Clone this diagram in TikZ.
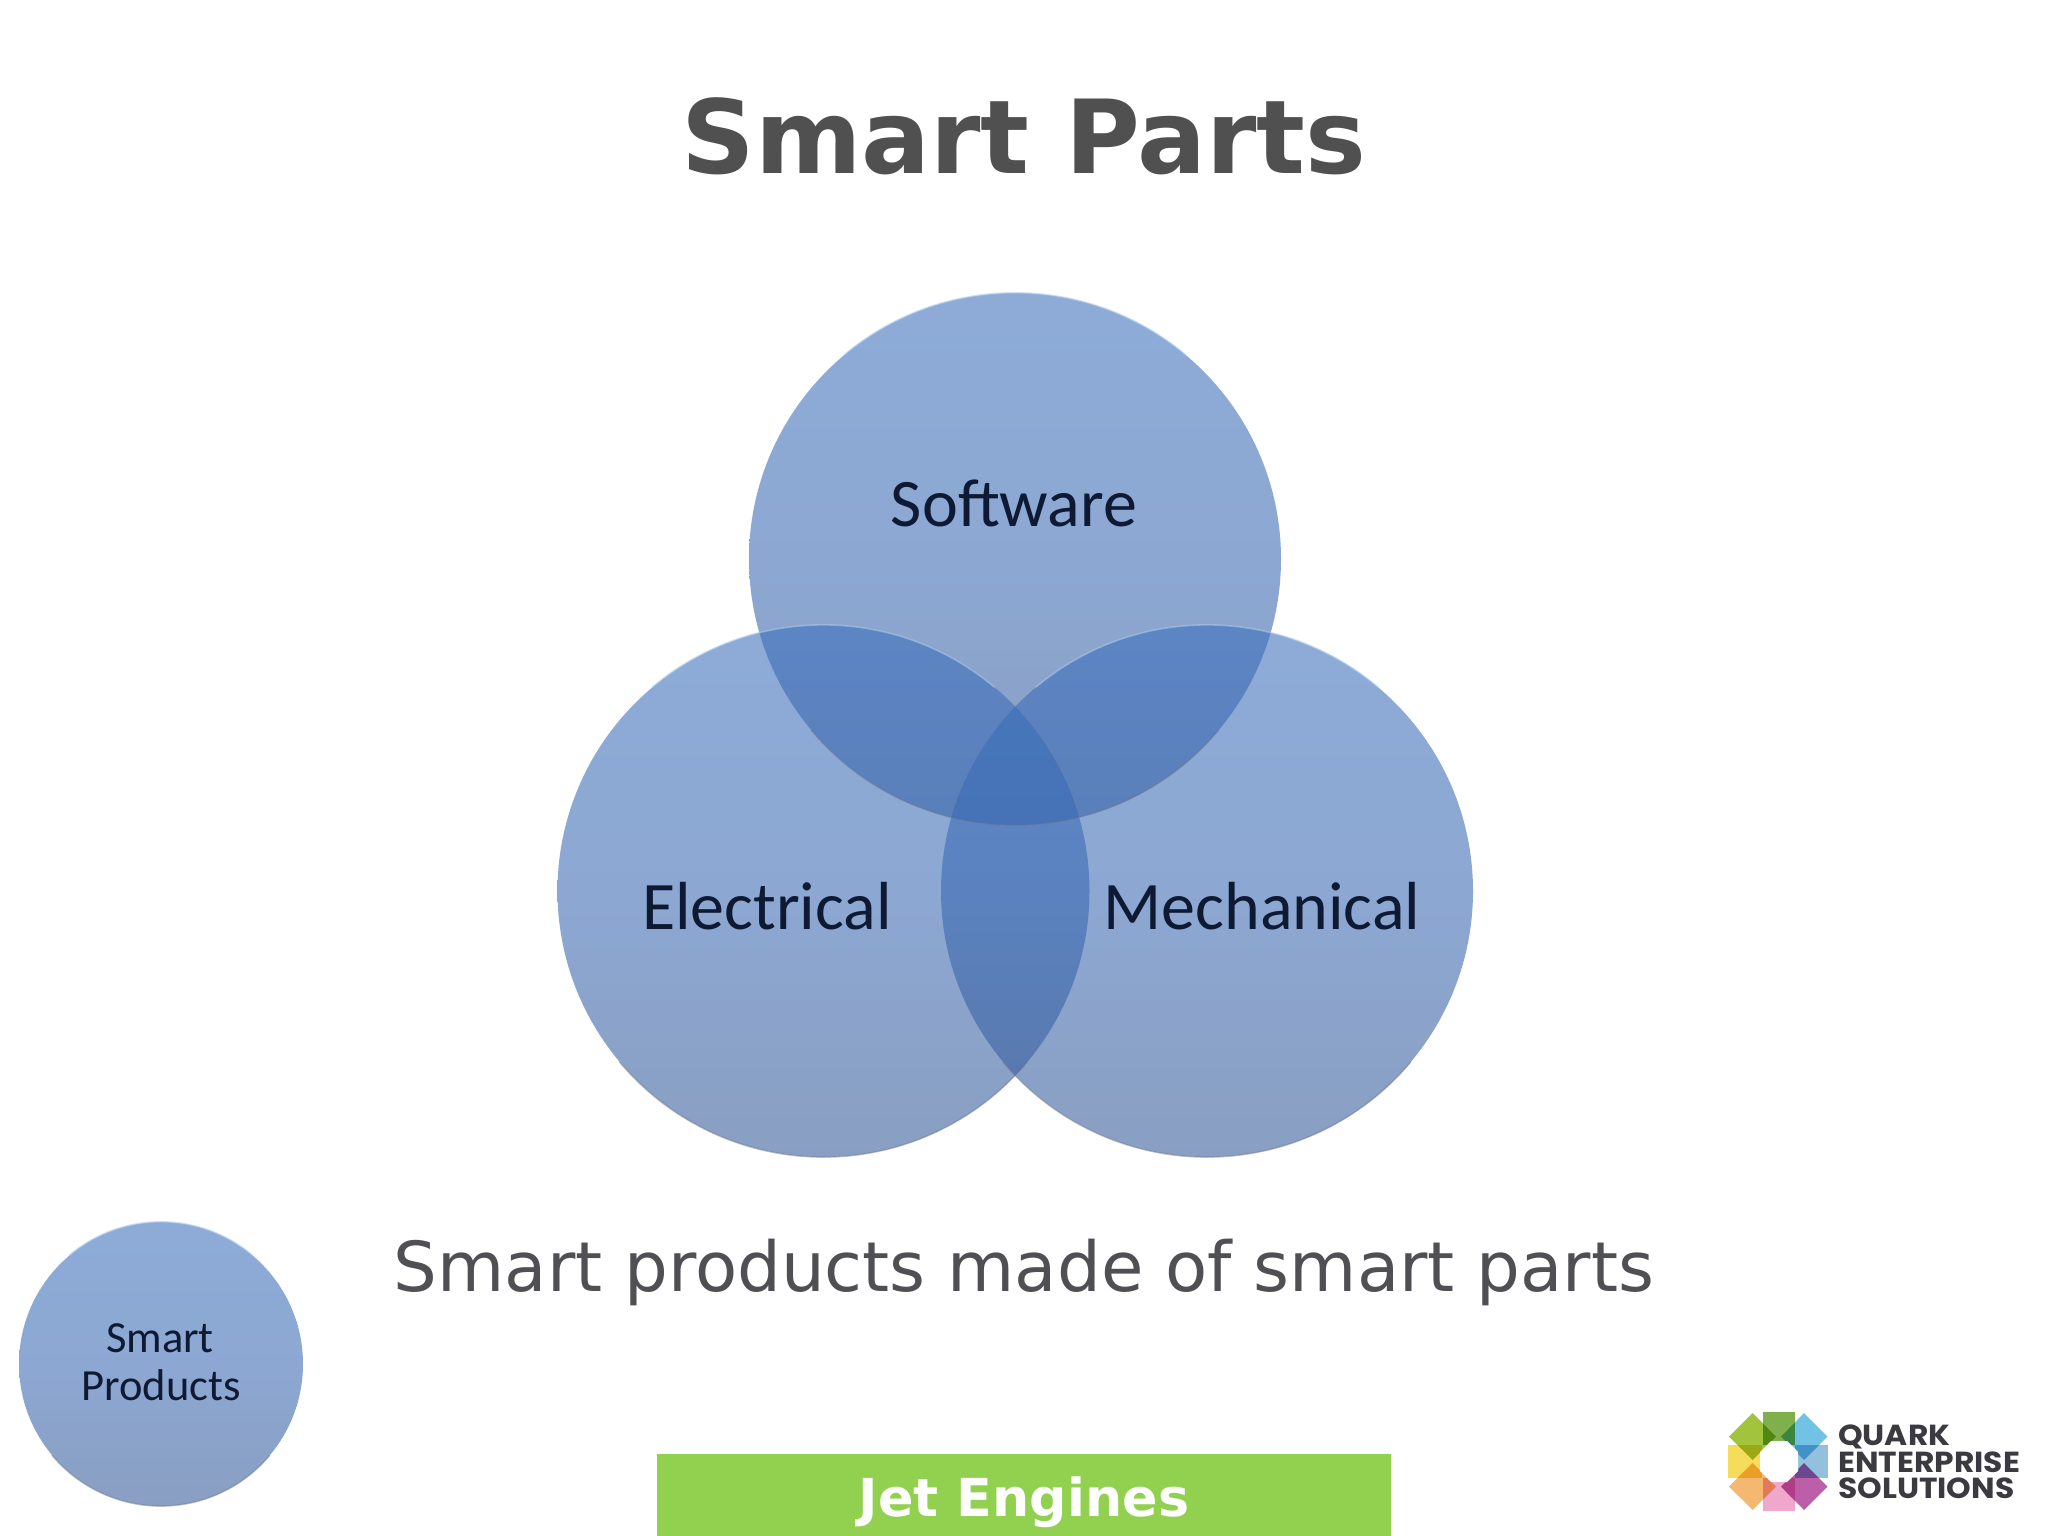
\documentclass[tikz,border=0pt]{standalone}
\usepackage{fontspec}
\newfontfamily\verd{DejaVu Sans}
\newfontfamily\cali{Carlito}
\newfontfamily\logof{Poppins}[UprightFont=* Bold]
\definecolor{heading}{HTML}{505050}
\definecolor{subhead}{HTML}{505054}
\definecolor{labelink}{HTML}{0E1A33}
\definecolor{bar}{HTML}{92D050}
\definecolor{glasstop}{RGB}{59,111,188}
\definecolor{glassmid}{RGB}{56,104,178}
\definecolor{glassbot}{RGB}{52,88,150}
\definecolor{rimlight}{HTML}{A8CBEA}
\definecolor{rimdark}{HTML}{6A7288}
\definecolor{logoink}{HTML}{3A3A40}
\definecolor{ltl}{HTML}{A2C43C}
\definecolor{lt}{HTML}{7FB04C}
\definecolor{ltr}{HTML}{72C2E6}
\definecolor{lr}{HTML}{93C0DC}
\definecolor{lbr}{HTML}{BC5FA8}
\definecolor{lb}{HTML}{EFA8CC}
\definecolor{lbl}{HTML}{F4B870}
\definecolor{ll}{HTML}{F5DC5A}
\tikzset{
  x=1pt,y=-1pt,
  glass/.style={circle,inner sep=0pt,minimum size=#1,
    top color=glasstop,bottom color=glassbot,middle color=glassmid,
    fill opacity=.575,draw=none},
  rimtop/.style={draw=rimlight,line width=1.6pt,opacity=.55,line cap=round},
  rimbot/.style={draw=rimdark,line width=1.4pt,opacity=.45,line cap=round},
  vennlabel/.style={anchor=base,inner sep=0pt,text=labelink,font=\cali\fontsize{68}{72}\selectfont},
  smalllabel/.style={anchor=base,inner sep=0pt,text=labelink,font=\cali\fontsize{44.5}{48}\selectfont},
  logotext/.style={anchor=base west,inner sep=0pt,text=logoink,xscale=1.08,font=\logof\fontsize{29}{30}\selectfont},
  tile/.style={blend mode=multiply},
}
\begin{document}
\begin{tikzpicture}
\useasboundingbox (0,0) rectangle (2048,1536);
\fill[white] (0,0) rectangle (2048,1536);

\node[anchor=base,inner sep=0pt,text=heading,font=\verd\bfseries\fontsize{102.2}{110}\selectfont] (title) at (1024,174) {Smart Parts};

\node[glass=532pt] (soft) at (1015,559) {};
\node[glass=532pt] (elec) at (823.5,891) {};
\node[glass=532pt] (mech) at (1207,891) {};
\foreach \c in {soft,elec,mech}{
  \draw[rimtop] (\c.130) arc[start angle=130,end angle=50,radius=266pt];
  \draw[rimbot] (\c.-140) arc[start angle=-140,end angle=-40,radius=266pt];
}
\node[vennlabel] (softl) at (1014,526) {Software};
\node[vennlabel] (elecl) at (767,929) {Electrical};
\node[vennlabel] (mechl) at (1262,929) {Mechanical};

\node[anchor=base,inner sep=0pt,text=subhead,font=\verd\fontsize{69}{74}\selectfont] (sub) at (1024,1291) {Smart products made of smart parts};

\node[glass=284pt,fill opacity=.575] (prod) at (161,1364) {};
\draw[rimtop] (prod.130) arc[start angle=130,end angle=50,radius=142pt];
\draw[rimbot] (prod.-140) arc[start angle=-140,end angle=-40,radius=142pt];
\node[smalllabel] (prod1) at (160,1352) {Smart};
\node[smalllabel] (prod2) at (161,1400) {Products};

\fill[bar] (657,1454) rectangle (1391,1536);
\node[anchor=base,inner sep=0pt,text=white,font=\verd\bfseries\fontsize{52.3}{56}\selectfont] (jet) at (1024,1516) {Jet Engines};

% logo
\begin{scope}[tile]
\fill[ll] (1728,1445) rectangle (1762,1478);
\fill[lr] (1795,1445) rectangle (1828,1478);
\fill[lb] (1762.7,1478) rectangle (1795,1511);
\fill[lt] (1762.7,1411.7) rectangle (1795,1445);
\fill[ltl] (1752.7,1413) -- (1776,1436.7) -- (1752.7,1460) -- (1729,1436.7) -- cycle;
\fill[ltr] (1804,1413) -- (1827.5,1436.7) -- (1804,1460) -- (1781,1436.7) -- cycle;
\fill[lbr] (1804,1463) -- (1827.5,1486.7) -- (1804,1510) -- (1781,1486.7) -- cycle;
\fill[lbl] (1752.7,1463) -- (1776,1486.7) -- (1752.7,1510) -- (1729,1486.7) -- cycle;
\end{scope}
\fill[white] (1771,1441) -- (1787,1441) -- (1798,1452) -- (1798,1471) -- (1787,1482) -- (1771,1482) -- (1760,1471) -- (1760,1452) -- cycle;
\node[logotext] (q) at (1838,1445) {QUARK};
\node[logotext] (e) at (1838,1472) {ENTERPRISE};
\node[logotext] (s) at (1838,1498) {SOLUTIONS};
\end{tikzpicture}
\end{document}
